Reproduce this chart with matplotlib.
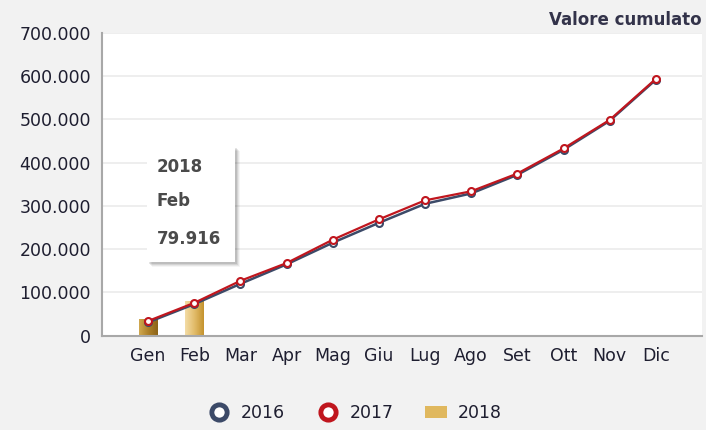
import matplotlib.pyplot as plt
from matplotlib.lines import Line2D
from matplotlib.patches import Rectangle
from matplotlib.colors import LinearSegmentedColormap
import numpy as np

# Mesi e valori cumulati
mesi = ['Gen', 'Feb', 'Mar', 'Apr', 'Mag', 'Giu', 'Lug', 'Ago', 'Set', 'Ott', 'Nov', 'Dic']
valori_2016 = [31000, 73000, 120000, 165000, 215000, 261000, 305000, 329000, 372000, 430000, 497000, 592000]
valori_2017 = [34000, 76000, 127000, 168000, 222000, 269000, 313000, 334000, 375000, 433000, 499000, 594000]
valori_2018 = [38000, 79916]
y_ticks = [0, 100000, 200000, 300000, 400000, 500000, 600000, 700000]
y_labels = ['0', '100.000', '200.000', '300.000', '400.000', '500.000', '600.000', '700.000']

rosso = '#c0161e'
blu = '#3c4a68'
testo = '#1e1e30'

fig = plt.figure(figsize=(7.06, 4.30), dpi=100)
fig.patch.set_facecolor('#f2f2f2')
ax = fig.add_axes([102 / 706, 94.3 / 430, 600 / 706, 302.7 / 430])
ax.set_facecolor('white')

x = np.arange(len(mesi))

# barre 2018 con sfumatura oro
larg = 0.4
gradiente = np.linspace(0, 1, 64).reshape(1, -1)
oro = LinearSegmentedColormap.from_list('oro', ['#f3dca6', '#e2bc6a', '#c4932e'])
oro_scuro = LinearSegmentedColormap.from_list('oro2', ['#d0a850', '#ad8029', '#8c6418'])
for i, v in enumerate(valori_2018):
    cmap = oro_scuro if i == 0 else oro
    ax.imshow(gradiente, cmap=cmap, aspect='auto', zorder=2,
              extent=(x[i] - larg / 2, x[i] + larg / 2, 0, v))

# linee 2016 e 2017
ax.plot(x, valori_2016, color=blu, lw=1.8, marker='o', markersize=5,
        mfc='white', mec=blu, mew=1.5, zorder=3)
ax.plot(x, valori_2017, color=rosso, lw=1.6, marker='o', markersize=5,
        mfc='white', mec=rosso, mew=1.5, zorder=4)

ax.set_xlim(-1, 12)
ax.set_ylim(0, 700000)
ax.set_xticks(x)
ax.set_xticklabels(mesi)
ax.set_yticks(y_ticks)
ax.set_yticklabels(y_labels)
ax.tick_params(length=0, labelsize=12.5, colors=testo, pad=8)
ax.grid(axis='y', color='#ebebeb', lw=1.2)
ax.set_axisbelow(True)
for lato in ['top', 'right']:
    ax.spines[lato].set_visible(False)
ax.spines['left'].set_color('#a8a8a8')
ax.spines['bottom'].set_color('#a8a8a8')
ax.spines['left'].set_linewidth(1.5)
ax.spines['bottom'].set_linewidth(1.5)

# titolo in alto a destra
fig.text(702 / 706, 1 - 20 / 430, 'Valore cumulato', ha='right', va='center',
         fontsize=12, fontweight='bold', color='#33334a')

# tooltip
tt_x0, tt_y0, tt_w, tt_h = 147, 146, 88, 116
for k, a in [(5, 0.04), (4, 0.06), (3, 0.08), (2, 0.1)]:
    fig.patches.append(Rectangle(((tt_x0 + k) / 706, 1 - (tt_y0 + tt_h + k) / 430),
                                 tt_w / 706, tt_h / 430, transform=fig.transFigure,
                                 facecolor='black', alpha=a, edgecolor='none', zorder=5))
fig.patches.append(Rectangle((tt_x0 / 706, 1 - (tt_y0 + tt_h) / 430), tt_w / 706, tt_h / 430,
                             transform=fig.transFigure, facecolor='white',
                             edgecolor='none', zorder=6))
for testo_tt, yy in [('2018', 167), ('Feb', 201), ('79.916', 239)]:
    fig.text(157 / 706, 1 - yy / 430, testo_tt, ha='left', va='center', fontsize=12,
             fontweight='bold', color='#4a4a4a', zorder=7)

# legenda
maniglie = [
    Line2D([], [], ls='none', marker='o', markersize=11, mfc='white', mec=blu, mew=3.5),
    Line2D([], [], ls='none', marker='o', markersize=11, mfc='white', mec=rosso, mew=3.5),
    Rectangle((0, 0), 1, 1, facecolor='#e0b85e', edgecolor='none'),
]
leg = fig.legend(maniglie, ['2016', '2017', '2018'], loc='center', ncol=3,
                 bbox_to_anchor=(355 / 706, 1 - 413 / 430), frameon=False,
                 fontsize=12.5, handlelength=1.3, handletextpad=0.6, columnspacing=1.8)
for t in leg.get_texts():
    t.set_color(testo)

plt.savefig('out.png', dpi=100, facecolor=fig.get_facecolor())
